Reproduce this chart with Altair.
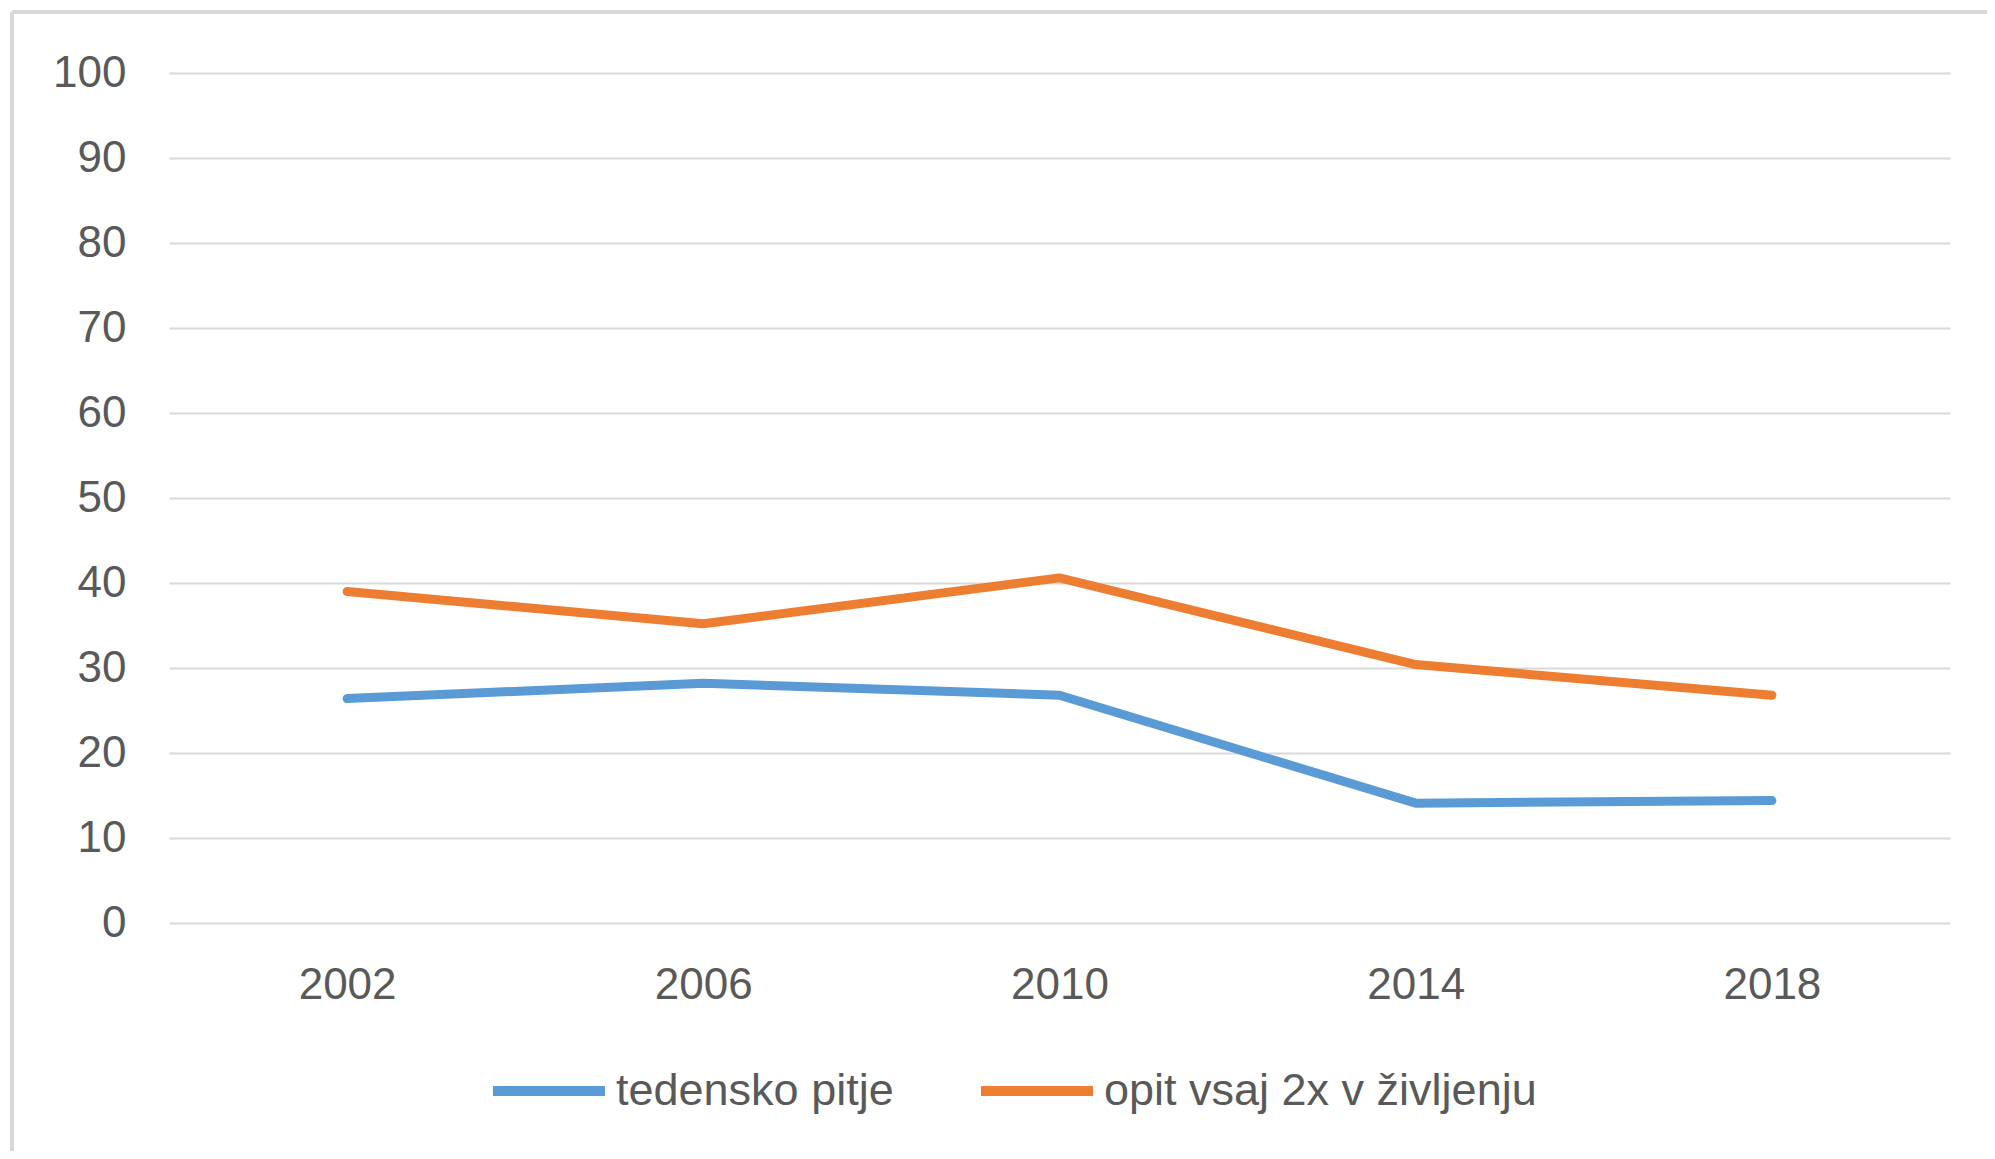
import altair as alt
import pandas as pd

years = ["2002", "2006", "2010", "2014", "2018"]
series_names = ["tedensko pitje", "opit vsaj 2x v življenju"]
weekly = [26.4, 28.2, 26.8, 14.1, 14.4]
binge = [39.0, 35.2, 40.6, 30.4, 26.8]
y_ticks = [0, 10, 20, 30, 40, 50, 60, 70, 80, 90, 100]
colors = ["#5B9BD5", "#ED7D31"]

rows = []
for name, vals in zip(series_names, [weekly, binge]):
    for yr, v in zip(years, vals):
        rows.append({"leto": yr, "serija": name, "vrednost": v})
df = pd.DataFrame(rows)

W, H = 1781, 850
FONT = "Liberation Sans"
TXT = "#595959"

lines = alt.Chart(df).mark_line(strokeWidth=9, strokeCap="round", strokeJoin="round").encode(
    x=alt.X("leto:O", sort=years,
            scale=alt.Scale(type="point", padding=0.5),
            axis=alt.Axis(title=None, labelAngle=0, domain=False, ticks=False,
                          labelPadding=40, labelFontSize=44, labelFont=FONT,
                          labelColor=TXT, grid=False)),
    y=alt.Y("vrednost:Q",
            scale=alt.Scale(domain=[0, 100], nice=False),
            axis=alt.Axis(title=None, values=y_ticks, domain=False, ticks=False,
                          labelPadding=43, labelFontSize=44, labelFont=FONT,
                          labelColor=TXT, gridColor="#d9d9d9", gridWidth=2)),
    color=alt.Color("serija:N",
                    scale=alt.Scale(domain=series_names, range=colors),
                    legend=alt.Legend(title=None, orient="none", direction="horizontal",
                                      legendX=319, legendY=957, symbolType="stroke",
                                      symbolSize=12544, symbolStrokeWidth=10,
                                      labelFontSize=45, labelFont=FONT, labelColor=TXT,
                                      labelLimit=0, labelOffset=6, columnPadding=67,
                                      padding=0)),
    order=alt.Order("leto:O"),
)

frame_data = alt.Data(values=[{"k": 1}])
left_border = alt.Chart(frame_data).mark_rule(color="#d9d9d9", strokeWidth=4).encode(
    x=alt.value(-157), y=alt.value(-61), y2=alt.value(1080))
top_border = alt.Chart(frame_data).mark_rule(color="#d9d9d9", strokeWidth=4).encode(
    x=alt.value(-157), x2=alt.value(1830), y=alt.value(-61))

chart = alt.layer(left_border, top_border, lines).properties(
    width=W, height=H,
    autosize=alt.AutoSizeParams(type="none"),
    padding={"left": 161, "top": 65, "right": 37, "bottom": 228},
    background="white",
).configure_view(stroke=None)

chart.save("out.html", embed_options={"renderer": "svg", "actions": False})
